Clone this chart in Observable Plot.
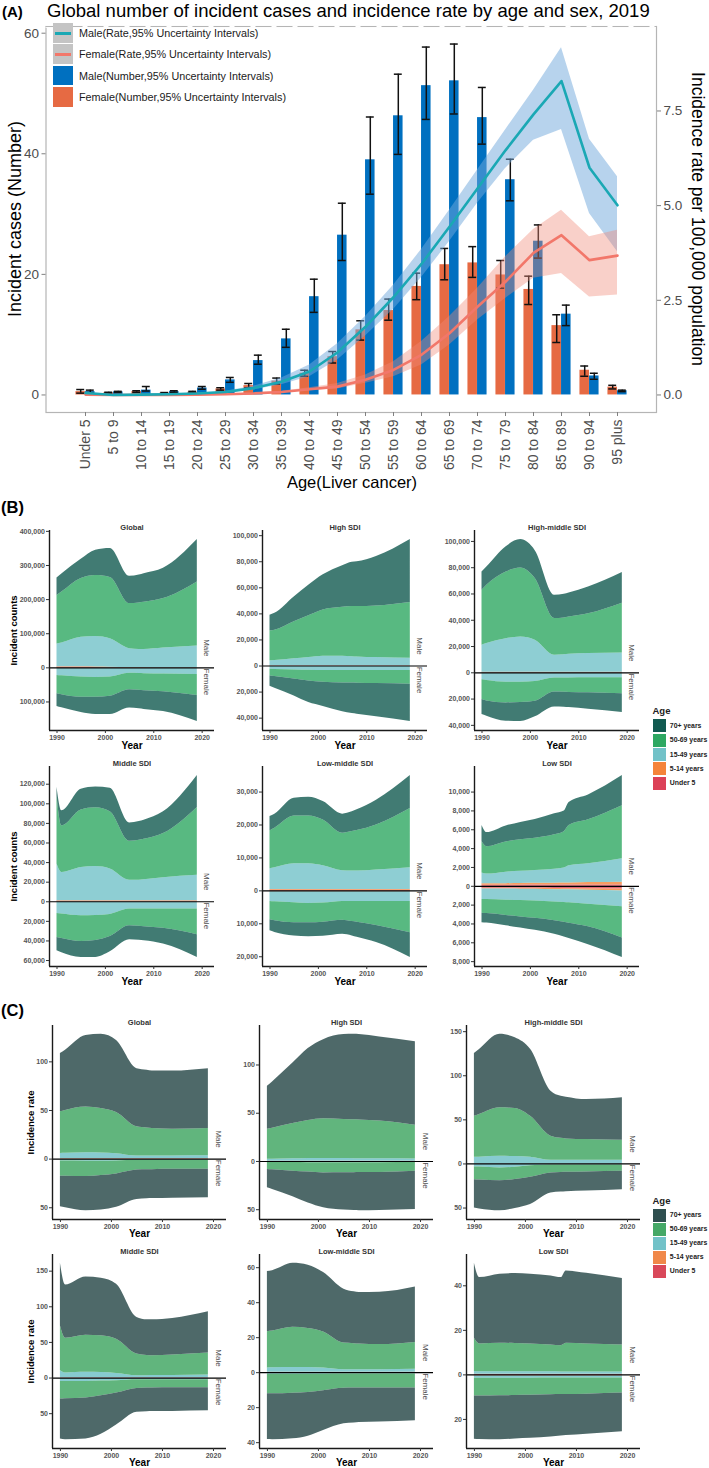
<!DOCTYPE html>
<html>
<head>
<meta charset="utf-8">
<script src="https://cdn.jsdelivr.net/npm/d3@7"></script>
<script src="https://cdn.jsdelivr.net/npm/@observablehq/plot@0.6"></script>
<style>
  html, body { margin: 0; padding: 0; background: #fff; }
  #root { position: relative; width: 709px; height: 1468px; overflow: hidden; font-family: "Liberation Sans", Arial, sans-serif; }
  .abs { position: absolute; }
</style>
</head>
<body>
<div id="root"></div>
<script>
// ---------------- Panel A data ----------------
const ageGroups = ["Under 5","5 to 9","10 to 14","15 to 19","20 to 24","25 to 29","30 to 34","35 to 39","40 to 44","45 to 49","50 to 54","55 to 59","60 to 64","65 to 69","70 to 74","75 to 79","80 to 84","85 to 89","90 to 94","95 plus"];
const maleNumber        = [0.55,0.5,0.8,0.55,1.15,2.5,5.7,9.3,16.3,26.5,39.0,46.3,51.3,52.1,46.0,35.7,25.5,13.4,3.15,0.7];
const maleNumberLower   = [0.4,0.4,0.65,0.45,0.95,2.1,5.1,7.9,13.7,22.3,33.3,39.9,45.7,46.6,41.6,32.2,22.7,11.5,2.6,0.55];
const maleNumberUpper   = [0.8,0.6,1.4,0.7,1.4,2.9,6.6,10.9,19.2,31.8,46.1,53.2,57.7,58.2,51.0,39.1,28.2,14.9,3.6,0.8];
const femaleNumber      = [0.55,0.35,0.55,0.3,0.45,1.0,1.55,2.3,3.6,6.35,10.8,14.0,18.0,21.6,21.9,19.9,17.5,11.5,4.1,1.3];
const femaleNumberLower = [0.3,0.25,0.45,0.2,0.35,0.8,1.2,1.8,3.1,5.3,9.1,12.4,15.8,19.1,19.5,17.7,15.0,8.7,3.1,1.0];
const femaleNumberUpper = [0.9,0.45,0.7,0.4,0.6,1.2,1.9,2.8,4.1,7.2,12.3,15.9,20.2,24.3,24.6,22.3,19.7,13.3,4.8,1.6];
const maleRate          = [0.05,0.0,0.01,0.02,0.04,0.08,0.18,0.35,0.62,1.12,1.8,2.58,3.46,4.44,5.45,6.46,7.41,8.29,6.0,5.01];
const maleRateLower     = [0.03,0.0,0.0,0.01,0.03,0.06,0.13,0.27,0.48,0.92,1.56,2.26,3.1,4.05,5.06,5.98,6.73,7.01,4.79,3.78];
const maleRateUpper     = [0.07,0.01,0.02,0.03,0.05,0.1,0.23,0.45,0.79,1.35,2.07,2.9,3.84,4.88,5.94,7.0,8.05,9.17,6.75,5.76];
const femaleRate        = [0.01,0.0,0.0,0.0,0.01,0.02,0.04,0.08,0.15,0.22,0.4,0.66,1.06,1.63,2.33,2.99,3.75,4.22,3.56,3.68];
const femaleRateLower   = [0.0,0.0,0.0,0.0,0.0,0.01,0.03,0.06,0.11,0.16,0.31,0.48,0.79,1.32,1.98,2.55,3.08,3.21,2.59,2.64];
const femaleRateUpper   = [0.02,0.01,0.01,0.01,0.02,0.03,0.05,0.1,0.19,0.3,0.53,0.88,1.41,2.07,2.82,3.65,4.37,4.88,4.18,4.35];
const countTicksA = [0, 20, 40, 60];
const rateTicksA = [0, 2.5, 5.0, 7.5];
const legendLabelsA = ["Male(Rate,95% Uncertainty Intervals)","Female(Rate,95% Uncertainty Intervals)","Male(Number,95% Uncertainty Intervals)","Female(Number,95% Uncertainty Intervals)"];

// ---------------- Panels B & C data ----------------
const years = [1990, 1991, 1995, 1998, 2001, 2005, 2007, 2008, 2012, 2019];
const regions = ["Global","High SDI","High-middle SDI","Middle SDI","Low-middle SDI","Low SDI"];
// stacking order from the zero line outward
const stackOrder = ["Under 5","5-14 years","15-49 years","50-69 years","70+ years"];
const legendAges = ["70+ years","50-69 years","15-49 years","5-14 years","Under 5"];
const yearTicks = [1990, 2000, 2010, 2020];

// B: incident counts, thousands; rows follow stackOrder
const B_Global_M = [[1.5,1.5,1.5,1.2,1.0,0.6,0.5,0.5,0.5,0.4],[1.5,1.5,1.5,1.3,1.0,0.7,0.6,0.6,0.5,0.5],[67,70,87,89,83,55,53,53,57,63],[142,149,172,179,180,132,136,138,145,188],[51,53,56,74,85,80,82,84,89,124]];
const B_Global_F = [[1.0,1.0,1.0,0.9,0.8,0.5,0.5,0.5,0.4,0.4],[0.8,0.8,0.8,0.7,0.6,0.4,0.4,0.4,0.4,0.4],[20.8,21.7,25.2,26.4,25.6,15.1,15.6,16.1,17.2,18.7],[53.4,55.5,59,58,56,48,49.5,50,52,61.5],[37,38,45,51,54,54,54,55,58,76]];
const B_High_M = [[0.1,0.1,0.1,0.1,0.1,0.1,0.1,0.1,0.1,0.1],[0.1,0.1,0.1,0.1,0.1,0.1,0.1,0.1,0.1,0.1],[3.8,4.0,5.3,6.3,7.3,7.3,7.0,6.8,6.3,5.8],[23,23.3,28.5,32,35.5,37.5,38.4,38.6,39.5,42.7],[12,13,19,23.5,27,32,34.1,34.4,38,48.3]];
const B_High_F = [[0.1,0.1,0.1,0.1,0.1,0.1,0.1,0.1,0.1,0.1],[0.1,0.1,0.1,0.1,0.1,0.1,0.1,0.1,0.1,0.1],[2.3,2.4,2.8,3.1,3.3,3.3,3.3,3.3,3.3,3.3],[5.2,5.4,7,8.2,9,9.5,9.5,9.7,10,10.5],[7.8,9,13,16.5,18.5,22,23.5,23.8,25.5,28.5]];
const B_HM_M = [[0.3,0.3,0.3,0.3,0.3,0.3,0.3,0.3,0.3,0.3],[0.2,0.2,0.2,0.2,0.2,0.2,0.2,0.2,0.2,0.2],[20.5,21.8,25.5,26.8,24.3,12.9,13.3,13.6,14.2,14.6],[41.8,44.3,50.7,52.5,46.9,27.9,28,28.4,30.3,37.9],[13.9,13.9,19.3,21.6,21.3,17.7,18,18.3,20.3,23.3]];
const B_HM_F = [[0.2,0.2,0.2,0.2,0.2,0.2,0.2,0.2,0.2,0.2],[0.1,0.1,0.1,0.1,0.1,0.1,0.1,0.1,0.1,0.1],[5.0,5.5,6.8,6.8,6.3,3.7,3.6,3.6,3.5,3.5],[15.1,15.7,15.8,15.5,15,10.6,10.9,11,11.3,12.1],[11.3,11.5,13.9,14.4,11.9,11.4,11.4,11.6,12.6,14.3]];
const B_Mid_M = [[0.5,0.5,0.5,0.5,0.5,0.5,0.5,0.5,0.5,0.5],[0.5,0.5,0.5,0.5,0.5,0.5,0.5,0.5,0.5,0.5],[37.5,29,34,35,32.5,21,21,21.5,23.5,26],[69.5,47.4,58.6,60,58.3,39.7,40.7,41.2,45.1,69.3],[9,15.4,21.2,21.2,24.1,18.8,19.3,19.6,22.2,32.5]];
const B_Mid_F = [[0.3,0.3,0.3,0.3,0.3,0.3,0.3,0.3,0.3,0.3],[0.3,0.3,0.3,0.3,0.3,0.3,0.3,0.3,0.3,0.3],[11.3,11.9,13.7,13.4,12.3,6.9,6.9,6.9,6.9,6.9],[24.5,25,26.2,25.5,22.6,17,17.5,18,19.5,26.2],[13.6,14.5,16.3,17.3,15.5,14.3,14.3,14.3,16.2,23.1]];
const B_LM_M = [[0.2,0.2,0.2,0.2,0.2,0.2,0.2,0.2,0.2,0.2],[0.2,0.2,0.2,0.2,0.2,0.2,0.2,0.2,0.2,0.2],[6.3,6.6,7.8,7.8,7.2,5.7,5.6,5.6,5.9,6.6],[11.5,12,14.5,14.5,13.9,11.4,12,12.3,13.7,18],[4.4,4.3,5.4,5.7,5.6,5.8,6,6.3,7.5,10]];
const B_LM_F = [[0.15,0.15,0.15,0.15,0.15,0.15,0.15,0.15,0.15,0.15],[0.15,0.15,0.15,0.15,0.15,0.15,0.15,0.15,0.15,0.15],[2.9,3.0,3.3,3.5,3.4,2.9,2.9,2.9,2.9,2.9],[5.6,5.8,6.1,5.9,5.8,5.7,6.1,6.3,7.3,9.5],[3.3,3.5,4,4.2,4.3,4.3,4.4,4.6,5.2,7.5]];
const B_Low_M = [[0.12,0.12,0.12,0.12,0.13,0.13,0.13,0.13,0.14,0.14],[0.15,0.15,0.16,0.17,0.18,0.2,0.21,0.22,0.25,0.3],[1.13,1.03,1.22,1.31,1.37,1.49,1.59,1.82,2.0,2.48],[3.35,2.9,3.2,3.33,3.42,3.64,3.87,4.28,4.66,5.62],[1.7,1.5,1.7,1.84,2.0,2.24,2.2,2.45,2.65,3.21]];
const B_Low_F = [[0.2,0.2,0.2,0.21,0.22,0.24,0.25,0.25,0.27,0.3],[0.08,0.08,0.09,0.1,0.1,0.12,0.13,0.13,0.15,0.2],[1.12,1.13,1.18,1.21,1.25,1.31,1.35,1.38,1.48,1.68],[1.47,1.49,1.63,1.73,1.83,1.98,2.09,2.16,2.4,3.32],[0.99,1.0,1.1,1.18,1.28,1.45,1.56,1.63,1.9,2.05]];

// C: incidence rate per 100,000; rows follow stackOrder
const C_Global_M = [[0.2,0.2,0.2,0.2,0.2,0.2,0.2,0.2,0.2,0.2],[0.2,0.2,0.2,0.2,0.2,0.2,0.2,0.2,0.2,0.2],[5.4,5.6,6.1,5.9,5.2,2.7,2.8,2.8,2.9,3.0],[42.8,44,47,45.7,42.4,30.1,28.8,28.3,27.5,28.1],[59.9,62,73.5,76.3,74,59.8,59.4,59.1,59.8,61.5]];
const C_Global_F = [[0.15,0.15,0.15,0.15,0.15,0.15,0.15,0.15,0.15,0.15],[0.15,0.15,0.15,0.15,0.15,0.15,0.15,0.15,0.15,0.15],[1.7,1.7,1.8,1.8,1.6,0.8,0.8,0.8,0.8,0.8],[15.5,15.6,15.7,14.7,13.3,10.2,9.9,9.7,9.4,9.2],[31.5,32.4,35.2,35.5,34.3,30.1,29.8,29.8,29.7,29.4]];
const C_High_M = [[0.1,0.1,0.1,0.1,0.1,0.1,0.1,0.1,0.1,0.1],[0.1,0.1,0.1,0.1,0.1,0.1,0.1,0.1,0.1,0.1],[2.1,2.1,2.5,2.8,2.9,2.8,2.7,2.7,2.6,2.4],[31.1,32.2,36.6,39.5,41.2,40.5,40.3,40.1,39.2,35],[44.6,48,62.7,74.5,82,88,88.6,88.5,87,86.4]];
const C_High_F = [[0.05,0.05,0.05,0.05,0.05,0.05,0.05,0.05,0.05,0.05],[0.05,0.05,0.05,0.05,0.05,0.05,0.05,0.05,0.05,0.05],[0.9,0.9,1,1.1,1.1,1.1,1.1,1.1,1.1,1],[7.3,7.6,8.9,9.8,10.7,10.6,10.4,10.3,10.1,8.9],[19,20.4,26.6,32,36.1,38.6,39.2,39.5,39.5,39.8]];
const C_HM_M = [[0.15,0.15,0.15,0.15,0.15,0.15,0.15,0.15,0.15,0.15],[0.15,0.15,0.15,0.15,0.15,0.15,0.15,0.15,0.15,0.15],[7.2,7.4,8.3,8.2,7.3,3.8,3.8,3.8,3.8,3.8],[46.5,48.3,55,54.3,46.4,27.3,24.9,24.3,23.5,22.7],[71.3,73.9,83.4,80.2,76,51.1,47.8,47.3,45.4,48.2]];
const C_HM_F = [[0.1,0.1,0.1,0.1,0.1,0.1,0.1,0.1,0.1,0.1],[0.1,0.1,0.1,0.1,0.1,0.1,0.1,0.1,0.1,0.1],[3.2,3.4,4.3,3.5,1.9,1.0,1.0,1.0,1.0,1.0],[14.4,14.6,14.5,13.8,12.9,9,8.5,8.3,7.9,7.2],[32.2,32.8,34,33,31,22.8,22.1,21.9,21.6,20.8]];
const C_Mid_M = [[0.2,0.2,0.2,0.2,0.2,0.2,0.2,0.2,0.2,0.2],[0.2,0.2,0.2,0.2,0.2,0.2,0.2,0.2,0.2,0.2],[9.8,6.6,7.6,7.4,6.1,2.9,2.9,3.0,3.2,3.8],[63.1,49,52.2,51.5,48.1,30.3,28.2,27.8,28.6,30.8],[87.7,74.7,81.7,80.7,77,51.4,50.2,50.5,51.4,57.9]];
const C_Mid_F = [[0.15,0.15,0.15,0.15,0.15,0.15,0.15,0.15,0.15,0.15],[0.15,0.15,0.15,0.15,0.15,0.15,0.15,0.15,0.15,0.15],[4.7,4.7,4.5,4,3.5,2.2,2.2,2.2,2.2,2.2],[24.4,24,23.2,20.7,17.2,12,11.5,11.3,11,11],[56,57.5,57.4,54,45,33.5,33.2,33.2,33.3,32.5]];
const C_LM_M = [[0.1,0.1,0.1,0.1,0.1,0.1,0.1,0.1,0.1,0.1],[0.1,0.1,0.1,0.1,0.1,0.1,0.1,0.1,0.1,0.1],[2.5,2.6,2.8,2.7,2.4,1.4,1.4,1.4,1.5,1.8],[20.7,21,22.9,22.4,20.7,15.3,15,14.8,14.4,15.3],[34.4,34.5,36.6,36.1,33.9,30.8,29.6,29.4,29.9,31.7]];
const C_LM_F = [[0.15,0.15,0.15,0.15,0.15,0.15,0.15,0.15,0.15,0.15],[0.15,0.15,0.15,0.15,0.15,0.15,0.15,0.15,0.15,0.15],[0.6,0.6,0.6,0.6,0.6,0.5,0.5,0.5,0.5,0.5],[11.2,11.2,10.9,10.4,9.4,8.1,8,8,7.9,7.9],[26.1,26.2,26,25,22.7,20.3,19.9,19.7,19.5,18.8]];
const C_Low_M = [[0.15,0.15,0.15,0.15,0.15,0.15,0.15,0.15,0.15,0.15],[0.15,0.15,0.15,0.15,0.15,0.15,0.15,0.15,0.15,0.15],[1.2,1.1,1.1,1.1,1.1,1.1,1.0,1.0,1.0,1.0],[14.9,12.5,12.8,12.7,12.5,12.0,11.8,12.9,12.6,12.1],[33.7,29.8,31,31.4,31.3,31,30.6,32.5,31.7,29.9]];
const C_Low_F = [[0.3,0.3,0.3,0.3,0.3,0.3,0.3,0.3,0.3,0.3],[0.15,0.15,0.15,0.15,0.15,0.15,0.15,0.15,0.15,0.15],[1.05,1.05,1.05,1.05,1.05,1.0,1.0,1.0,1.0,1.0],[8.0,8.0,7.9,7.8,7.7,7.5,7.4,7.4,7.2,6.7],[19.4,19.5,19.7,19.5,19.3,18.9,18.6,18.4,18,17.4]];

// tick values per facet
const B_ticks = [
  [-100000,0,100000,200000,300000,400000],
  [-40000,-20000,0,20000,40000,60000,80000,100000],
  [-40000,-20000,0,20000,40000,60000,80000,100000],
  [-60000,-40000,-20000,0,20000,40000,60000,80000,100000,120000],
  [-20000,-10000,0,10000,20000,30000],
  [-8000,-6000,-4000,-2000,0,2000,4000,6000,8000,10000]
];
const C_ticks = [
  [-50,0,50,100],
  [-50,0,50,100],
  [-50,0,50,100,150],
  [-50,0,50,100,150],
  [-40,-20,0,20,40,60],
  [-20,0,20,40]
];
const B_male = [B_Global_M, B_High_M, B_HM_M, B_Mid_M, B_LM_M, B_Low_M];
const B_female = [B_Global_F, B_High_F, B_HM_F, B_Mid_F, B_LM_F, B_Low_F];
const C_male = [C_Global_M, C_High_M, C_HM_M, C_Mid_M, C_LM_M, C_Low_M];
const C_female = [C_Global_F, C_High_F, C_HM_F, C_Mid_F, C_LM_F, C_Low_F];

const B_colors = ["#115A50","#2EA862","#72C2C8","#F5843A","#DC4157"]; // legendAges order
const C_colors = ["#2F4F4F","#45A866","#72C2C8","#F0884A","#D9485A"];

// ---------------- helpers ----------------
const root = document.getElementById("root");
const FONT = '"Liberation Sans", Arial, sans-serif';

function addText(txt, x, y, {size = 12, weight = "normal", color = "#000", anchor = "start", rotate = 0} = {}) {
  const d = document.createElement("div");
  d.className = "abs";
  d.textContent = txt;
  d.style.cssText += `left:${x}px;top:${y}px;font-size:${size}px;font-weight:${weight};color:${color};white-space:nowrap;line-height:1;font-family:${FONT};`;
  const tx = anchor === "start" ? "0%" : anchor === "middle" ? "-50%" : "-100%";
  d.style.transform = `translate(${tx},-50%)` + (rotate ? ` rotate(${rotate}deg)` : "");
  root.appendChild(d);
  return d;
}
function addBox(x, y, w, h, color) {
  const d = document.createElement("div");
  d.className = "abs";
  d.style.cssText += `left:${x}px;top:${y}px;width:${w}px;height:${h}px;background:${color};`;
  root.appendChild(d);
  return d;
}
function place(svg, left, top) {
  const wrap = document.createElement("div");
  wrap.className = "abs";
  wrap.style.left = left + "px";
  wrap.style.top = top + "px";
  wrap.appendChild(svg);
  root.appendChild(wrap);
}

// ---------------- Panel A ----------------
(function panelA() {
  const k = 6.28;           // secondary axis: 1 rate unit = k count units
  const step = 28.08;       // spacing between age groups (px)
  const first = 84;         // first group centre (px)
  const w = 9.6;            // bar width
  const cap = 4;            // half width of error caps
  const males = ageGroups.map((age, i) => ({age, v: maleNumber[i], lo: maleNumberLower[i], hi: maleNumberUpper[i], r: maleRate[i], rlo: maleRateLower[i], rhi: maleRateUpper[i]}));
  const females = ageGroups.map((age, i) => ({age, v: femaleNumber[i], lo: femaleNumberLower[i], hi: femaleNumberUpper[i], r: femaleRate[i], rlo: femaleRateLower[i], rhi: femaleRateUpper[i]}));
  const top = d3.max([...maleNumberUpper, ...femaleNumberUpper, ...maleRateUpper.map(v => v * k), ...femaleRateUpper.map(v => v * k)]);
  const yDom = [-0.05 * top, 1.05 * top];
  const h = step / 2;
  const svg = Plot.plot({
    width: 709, height: 500,
    marginLeft: 45.5, marginRight: 53, marginTop: 26, marginBottom: 88,
    style: {background: "none", fontFamily: FONT, overflow: "visible", color: "#4d4d4d"},
    x: {type: "band", domain: ageGroups, range: [first - h, first + 19 * step + h], padding: 0},
    y: {domain: yDom},
    marks: [
      Plot.frame({stroke: "#b5b5b5", strokeWidth: 1.2}),
      Plot.ruleY([yDom[1]], {stroke: "white", strokeWidth: 2.5}),
      Plot.ruleY([yDom[1]], {stroke: "#b5b5b5", strokeWidth: 1.2, strokeDasharray: "16,5"}),
      Plot.barY(females, {x: "age", y: "v", fill: "#E66A43", insetLeft: h - w, insetRight: h}),
      Plot.barY(males, {x: "age", y: "v", fill: "#0070C0", insetLeft: h, insetRight: h - w}),
      Plot.ruleX(females, {x: "age", y1: "lo", y2: "hi", dx: -w / 2, stroke: "#111", strokeWidth: 1.5}),
      Plot.ruleX(males, {x: "age", y1: "lo", y2: "hi", dx: w / 2, stroke: "#111", strokeWidth: 1.5}),
      Plot.tickY(females, {x: "age", y: "hi", insetLeft: h - w / 2 - cap, insetRight: h + w / 2 - cap, stroke: "#111", strokeWidth: 1.5}),
      Plot.tickY(females, {x: "age", y: "lo", insetLeft: h - w / 2 - cap, insetRight: h + w / 2 - cap, stroke: "#111", strokeWidth: 1.5}),
      Plot.tickY(males, {x: "age", y: "hi", insetLeft: h + w / 2 - cap, insetRight: h - w / 2 - cap, stroke: "#111", strokeWidth: 1.5}),
      Plot.tickY(males, {x: "age", y: "lo", insetLeft: h + w / 2 - cap, insetRight: h - w / 2 - cap, stroke: "#111", strokeWidth: 1.5}),
      Plot.areaY(males, {x: "age", y1: d => d.rlo * k, y2: d => d.rhi * k, fill: "#6FA8DC", fillOpacity: 0.5}),
      Plot.areaY(females, {x: "age", y1: d => d.rlo * k, y2: d => d.rhi * k, fill: "#F08A78", fillOpacity: 0.4}),
      Plot.line(females, {x: "age", y: d => d.r * k, stroke: "#F2776A", strokeWidth: 2.6}),
      Plot.line(males, {x: "age", y: d => d.r * k, stroke: "#1AA8B4", strokeWidth: 2.6}),
      Plot.axisY(countTicksA, {anchor: "left", tickSize: 4, tickPadding: 3, fontSize: 13.5, label: null, fill: "#4d4d4d", stroke: "#808080"}),
      Plot.axisY(rateTicksA.map(v => v * k), {anchor: "right", tickSize: 4, tickPadding: 3, fontSize: 13.5, label: null, tickFormat: d => (d / k).toFixed(1), fill: "#4d4d4d", stroke: "#808080"}),
      Plot.axisX({anchor: "bottom", tickRotate: -90, tickSize: 4, tickPadding: 3, fontSize: 14, label: null, fill: "#4d4d4d", stroke: "#808080"})
    ]
  });
  place(svg, 0, 0);

  // legend inside the panel
  const rowY = [33.3, 54.3, 75.7, 96.7];
  addBox(52.5, 23.3, 20.6, 19.6, "#C4C4C4");
  addBox(52.5, 44.0, 20.6, 19.6, "#C4C4C4");
  addBox(55, rowY[0] - 1.3, 16, 2.6, "#1AA8B4");
  addBox(55, rowY[1] - 1.3, 16, 2.6, "#F2776A");
  addBox(52.5, 65.8, 20.6, 19.6, "#0070C0");
  addBox(52.5, 87.0, 20.6, 19.6, "#E66A43");
  legendLabelsA.forEach((t, i) => addText(t, 79, rowY[i], {size: 10.8, color: "#1a1a1a"}));

  addText("(A)", 2, 11, {size: 15, weight: "bold"});
  addText("Global number of incident cases and incidence rate by age and sex, 2019", 47, 11, {size: 18.5});
  addText("Incident cases (Number)", 15, 219, {size: 18, anchor: "middle", rotate: -90});
  addText("Incidence rate per 100,000 population", 697, 219, {size: 17.5, anchor: "middle", rotate: 90});
  addText("Age(Liver cancer)", 352, 482, {size: 16.5, anchor: "middle"});
})();

// ---------------- Panels B & C ----------------
function facet({region, males, females, unit, ticks, colors, opacity, panelLeft, panelTop, panelW, panelH, yTitle, yTitleDx, yearDy}) {
  const rowsM = [], rowsF = [];
  stackOrder.forEach((age, a) => years.forEach((yr, i) => {
    rowsM.push({year: yr, age, value: males[a][i] * unit});
    rowsF.push({year: yr, age, value: -females[a][i] * unit});
  }));
  const totM = years.map((_, i) => d3.sum(males, arr => arr[i]) * unit);
  const totF = years.map((_, i) => d3.sum(females, arr => arr[i]) * unit);
  const hi = d3.max(totM), lo = -d3.max(totF);
  const pad = (hi - lo) * 0.05;
  const yDom = [lo - pad, hi + pad];
  const xDom = [1990 - 1.55, 2021 + 1.55];
  const ML = 50, MR = 14, MT = 14, MB = 30;
  const marks = [
    Plot.areaY(rowsM, {x: "year", y: "value", fill: "age", fillOpacity: opacity, order: stackOrder, curve: "monotone-x"}),
    Plot.areaY(rowsF, {x: "year", y: "value", fill: "age", fillOpacity: opacity, order: stackOrder, curve: "monotone-x"}),
    Plot.ruleY([0], {stroke: "#000", strokeWidth: 1.2}),
    Plot.ruleX([xDom[0]], {stroke: "#1a1a1a", strokeWidth: 1.4}),
    Plot.ruleY([yDom[0]], {stroke: "#1a1a1a", strokeWidth: 1.4}),
    Plot.axisY(ticks, {anchor: "left", tickFormat: d => d3.format(",")(Math.abs(d)), tickSize: 3, tickPadding: 1.5, fontSize: 7, fontWeight: "bold", label: null, fill: "#555555", stroke: "#333"}),
    Plot.axisX(yearTicks, {anchor: "bottom", tickFormat: d => String(d), tickSize: 3, tickPadding: 1.5, fontSize: 7, fontWeight: "bold", label: null, fill: "#555555", stroke: "#333"}),
    Plot.text([region], {frameAnchor: "top", dy: -3, lineAnchor: "middle", fontWeight: "bold", fontSize: 7.5, fill: "#333"}),
    Plot.text(["Year"], {frameAnchor: "bottom", dy: yearDy, lineAnchor: "middle", fontWeight: "bold", fontSize: 10, fill: "#000"}),
    Plot.text([{x: 2021, y: 0, t: "Male"}], {x: "x", y: "y", text: "t", rotate: 90, dy: -20, fontSize: 8, fill: "#4d4d4d"}),
    Plot.text([{x: 2021, y: 0, t: "Female"}], {x: "x", y: "y", text: "t", rotate: 90, dy: 14, fontSize: 8, fill: "#4d4d4d"})
  ];
  if (yTitle) marks.push(Plot.text([yTitle], {frameAnchor: "left", dx: yTitleDx, rotate: -90, textAnchor: "middle", lineAnchor: "middle", fontWeight: "bold", fontSize: 9.5, fill: "#000"}));
  const svg = Plot.plot({
    width: panelW + ML + MR, height: panelH + MT + MB,
    marginLeft: ML, marginRight: MR, marginTop: MT, marginBottom: MB,
    style: {background: "none", fontFamily: FONT, overflow: "visible", color: "#333"},
    x: {domain: xDom},
    y: {domain: yDom},
    color: {domain: legendAges, range: colors},
    marks
  });
  place(svg, panelLeft - ML, panelTop - MT);
}

function ageLegend(titleY, keyY0, keyStep, colors) {
  addText("Age", 652.5, titleY, {size: 9.5, weight: "bold", color: "#222"});
  legendAges.forEach((a, i) => {
    const cy = keyY0 + i * keyStep;
    addBox(652.5, cy - 6.6, 13.3, 13.2, colors[i]);
    addText(a, 669.8, cy, {size: 6.9, weight: "bold", color: "#222"});
  });
}

const B_cols = [49, 261.5, 474];
const B_rows = [530, 766];
const C_cols = [52.3, 259.2, 466];
const C_rows = [1024.5, 1253.5];

regions.forEach((region, i) => {
  const c = i % 3, r = Math.floor(i / 3);
  facet({region, males: B_male[i], females: B_female[i], unit: 1000, ticks: B_ticks[i], colors: B_colors, opacity: 0.8,
    panelLeft: B_cols[c], panelTop: B_rows[r], panelW: 165, panelH: 200,
    yTitle: c === 0 ? "Incident counts" : null, yTitleDx: -35.7, yearDy: 15.5});
  facet({region, males: C_male[i], females: C_female[i], unit: 1, ticks: C_ticks[i], colors: C_colors, opacity: 0.85,
    panelLeft: C_cols[c], panelTop: C_rows[r], panelW: 174, panelH: 194,
    yTitle: c === 0 ? "Incidence rate" : null, yTitleDx: -21.6, yearDy: 14});
});

ageLegend(710.7, 725.7, 14.4, B_colors);
ageLegend(1200.7, 1215.3, 14, C_colors);
addText("(B)", 1, 507, {size: 16.5, weight: "bold"});
addText("(C)", 1, 1009.5, {size: 16.5, weight: "bold"});
</script>
</body>
</html>
